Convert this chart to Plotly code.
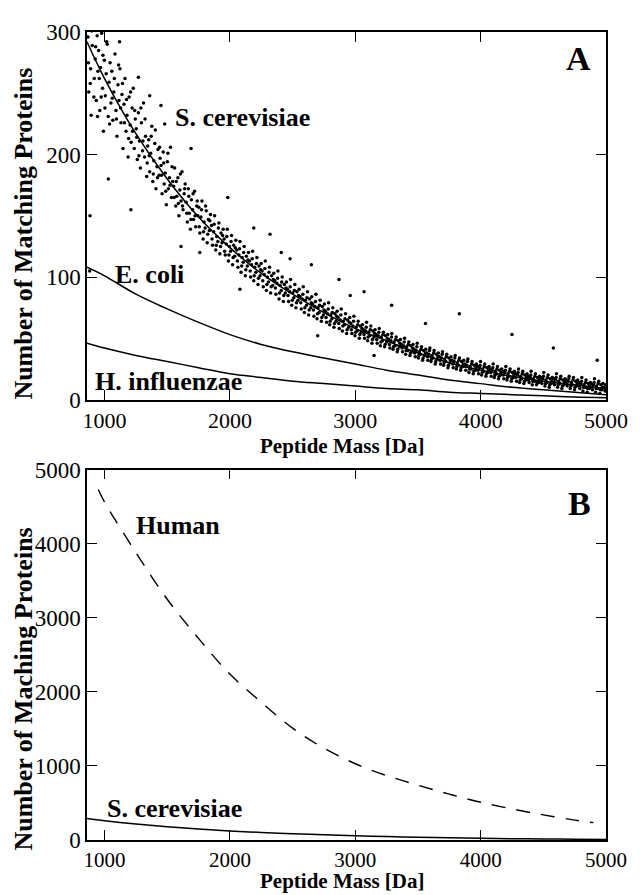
import plotly.graph_objects as go

# ---------------- data ----------------
mass_grid = [860, 1000, 1250, 1500, 1750, 2000, 2250, 2500, 2750, 3000,
             3250, 3500, 3750, 4000, 4250, 4500, 4750, 5000]
s_cerevisiae = [292, 262, 217, 180, 149, 124, 103, 86, 71, 58,
                48, 38, 30, 24, 19, 15, 12, 9]
e_coli = [108, 101, 86, 74, 63, 53, 45, 39, 34, 29,
          24, 20, 16, 13, 10, 8, 6, 4]
h_influenzae = [46, 42, 36, 31, 26, 21, 18, 15, 13, 11,
                9, 8, 6, 5, 4, 3, 2, 1.5]

human_mass = [950, 1000, 1250, 1500, 1750, 2000, 2250, 2500, 2750, 3000,
              3250, 3500, 3750, 4000, 4250, 4500, 4750, 4900]
human = [4730, 4560, 3880, 3250, 2720, 2240, 1860, 1510, 1240, 1030,
         870, 740, 620, 510, 420, 340, 270, 235]

# individual peptide matches (S. cerevisiae)
scatter_points = [
    (868, 296), (874, 251), (881, 312), (889, 270), (893, 232), (902, 289), (911, 305), (918, 262), (926, 278), (934, 244), (941, 297), (947, 268),
    (953, 285), (962, 236), (968, 271), (977, 299), (984, 254), (991, 219), (998, 277), (1006, 248), (1013, 266), (1021, 290), (1029, 231), (1036, 259), (1044, 275), (1051, 242),
    (1058, 268), (1066, 228), (1074, 251), (1083, 282), (1091, 236), (1099, 215), (1107, 257), (1115, 244), (1123, 270), (1131, 226), (1139, 249), (1147, 205),
    (1155, 241), (1163, 262), (1171, 219), (1179, 232), (1188, 198), (1196, 247), (1204, 224), (1212, 210), (1220, 238), (1229, 254), (1237, 205), (1245, 229),
    (1253, 221), (1261, 196), (1270, 234), (1278, 211), (1286, 189), (1294, 226), (1303, 203), (1311, 242), (1319, 198), (1327, 215), (1336, 182), (1344, 207),
    (1352, 212), (1360, 186), (1368, 201), (1377, 223), (1385, 178), (1393, 195), (1401, 209), (1410, 172), (1418, 190), (1426, 204), (1435, 183), (1443, 197),
    (1451, 191), (1459, 168), (1468, 202), (1476, 176), (1484, 185), (1493, 159), (1501, 194), (1509, 172), (1518, 181), (1526, 206), (1534, 165), (1543, 178),
    (1551, 174), (1559, 189), (1568, 158), (1576, 166), (1585, 181), (1593, 150), (1601, 171), (1610, 162), (1618, 186), (1626, 155), (1635, 168), (1643, 176),
    (1651, 161), (1660, 145), (1668, 172), (1676, 152), (1685, 139), (1693, 163), (1702, 155), (1710, 147), (1718, 170), (1727, 141), (1735, 158), (1744, 150),
    (1752, 157), (1760, 136), (1769, 149), (1777, 162), (1786, 131), (1794, 145), (1802, 140), (1811, 154), (1819, 128), (1828, 147), (1836, 138), (1845, 151),
    (1853, 142), (1861, 126), (1870, 137), (1878, 150), (1887, 122), (1895, 133), (1904, 129), (1912, 144), (1920, 119), (1929, 136), (1937, 128), (1946, 139),
    (1954, 131), (1963, 118), (1971, 127), (1979, 139), (1988, 113), (1996, 125), (2005, 121), (2013, 134), (2021, 110), (2030, 126), (2038, 117), (2047, 130),
    (2055, 122), (2064, 108), (2072, 118), (2080, 129), (2089, 104), (2097, 116), (2106, 112), (2114, 125), (2123, 101), (2131, 117), (2139, 109), (2148, 120),
    (2156, 113), (2165, 100), (2173, 110), (2181, 121), (2190, 97), (2198, 108), (2207, 104), (2215, 116), (2224, 94), (2232, 109), (2240, 101), (2249, 111),
    (2257, 105), (2266, 92), (2274, 102), (2282, 113), (2291, 89), (2299, 100), (2308, 96), (2316, 108), (2325, 87), (2333, 101), (2341, 93), (2350, 103),
    (2358, 97), (2367, 86), (2375, 95), (2383, 105), (2392, 82), (2400, 93), (2409, 89), (2417, 100), (2426, 80), (2434, 94), (2442, 87), (2451, 96),
    (2459, 90), (2468, 80), (2476, 88), (2484, 98), (2493, 77), (2501, 87), (2510, 83), (2518, 94), (2527, 75), (2535, 88), (2543, 81), (2552, 90),
    (2560, 84), (2569, 74), (2577, 82), (2585, 92), (2594, 71), (2602, 81), (2611, 77), (2619, 88), (2628, 69), (2636, 82), (2644, 75), (2653, 84),
    (2661, 78), (2670, 68), (2678, 76), (2686, 86), (2695, 66), (2703, 75), (2712, 71), (2720, 81), (2729, 64), (2737, 76), (2745, 69), (2754, 78),
    (2762, 72), (2771, 63), (2779, 70), (2787, 79), (2796, 61), (2804, 69), (2813, 66), (2821, 75), (2830, 59), (2838, 70), (2846, 64), (2855, 72),
    (2863, 67), (2872, 58), (2880, 65), (2888, 74), (2897, 56), (2905, 64), (2914, 61), (2922, 70), (2931, 54), (2939, 65), (2947, 59), (2956, 67),
    (2964, 62), (2973, 54), (2981, 60), (2989, 68), (2998, 52), (3006, 59), (3015, 56), (3023, 64), (3032, 50), (3040, 60), (3048, 55), (3057, 61),
    (3065, 57), (3074, 50), (3082, 56), (3090, 63), (3099, 48), (3107, 55), (3116, 52), (3124, 60), (3133, 46), (3141, 56), (3149, 51), (3158, 57),
    (3166, 53), (3175, 46), (3183, 52), (3191, 58), (3200, 44), (3208, 51), (3217, 48), (3225, 55), (3234, 43), (3242, 52), (3250, 47), (3259, 53),
    (3267, 49), (3276, 42), (3284, 48), (3292, 54), (3301, 41), (3309, 47), (3318, 44), (3326, 51), (3335, 39), (3343, 48), (3351, 43), (3360, 49),
    (3368, 45), (3377, 39), (3385, 44), (3393, 50), (3402, 37), (3410, 43), (3419, 40), (3427, 47), (3436, 36), (3444, 44), (3452, 39), (3461, 45),
    (3469, 41), (3478, 35), (3486, 40), (3494, 46), (3503, 34), (3511, 39), (3520, 37), (3528, 43), (3537, 32), (3545, 40), (3553, 36), (3562, 41),
    (3570, 38), (3579, 32), (3587, 37), (3595, 42), (3604, 31), (3612, 36), (3621, 34), (3629, 40), (3638, 29), (3646, 37), (3654, 33), (3663, 38),
    (3671, 35), (3680, 29), (3688, 34), (3696, 39), (3705, 28), (3713, 33), (3722, 31), (3730, 37), (3739, 26), (3747, 34), (3755, 30), (3764, 35),
    (3772, 32), (3781, 26), (3789, 31), (3797, 36), (3806, 25), (3814, 30), (3823, 28), (3831, 34), (3840, 24), (3848, 31), (3856, 27), (3865, 32),
    (3873, 29), (3882, 24), (3890, 28), (3898, 33), (3907, 22), (3915, 27), (3924, 25), (3932, 31), (3941, 21), (3949, 28), (3957, 24), (3966, 29),
    (3974, 27), (3983, 21), (3991, 26), (3999, 31), (4008, 20), (4016, 25), (4025, 23), (4033, 29), (4042, 19), (4050, 26), (4058, 22), (4067, 27),
    (4075, 25), (4084, 19), (4092, 24), (4100, 29), (4109, 18), (4117, 23), (4126, 21), (4134, 27), (4143, 17), (4151, 24), (4159, 20), (4168, 25),
    (4176, 23), (4185, 17), (4193, 22), (4201, 27), (4210, 16), (4218, 21), (4227, 19), (4235, 25), (4244, 15), (4252, 22), (4260, 18), (4269, 23),
    (4277, 21), (4286, 15), (4294, 20), (4302, 25), (4311, 14), (4319, 19), (4328, 17), (4336, 23), (4345, 13), (4353, 20), (4361, 16), (4370, 21),
    (4378, 19), (4387, 14), (4395, 18), (4403, 23), (4412, 12), (4420, 17), (4429, 15), (4437, 21), (4446, 12), (4454, 18), (4462, 14), (4471, 19),
    (4479, 18), (4488, 13), (4496, 17), (4504, 22), (4513, 11), (4521, 16), (4530, 14), (4538, 20), (4547, 10), (4555, 17), (4563, 13), (4572, 18),
    (4580, 17), (4589, 12), (4597, 16), (4605, 21), (4614, 10), (4622, 15), (4631, 13), (4639, 19), (4648, 9), (4656, 16), (4664, 12), (4673, 17),
    (4681, 16), (4690, 11), (4698, 15), (4706, 19), (4715, 9), (4723, 14), (4732, 12), (4740, 18), (4749, 8), (4757, 15), (4765, 11), (4774, 16),
    (4782, 14), (4791, 9), (4799, 13), (4807, 18), (4816, 7), (4824, 12), (4833, 10), (4841, 16), (4850, 6), (4858, 13), (4866, 9), (4875, 14),
    (4883, 13), (4892, 8), (4900, 12), (4908, 17), (4917, 6), (4925, 11), (4934, 9), (4942, 15), (4951, 5), (4959, 12), (4967, 8), (4976, 13),
    (4984, 10), (4993, 7), (4998, 12),
    # second pass through the band
    (871, 275), (886, 258), (899, 301), (915, 247), (929, 288), (944, 231),
    (958, 262), (973, 247), (987, 281), (1003, 238), (1017, 292), (1040, 225),
    (1061, 246), (1078, 262), (1095, 229), (1112, 273), (1128, 238), (1143, 258),
    (1159, 226), (1175, 245), (1192, 213), (1208, 251), (1224, 219), (1241, 236),
    (1257, 214), (1274, 199), (1290, 238), (1306, 211), (1323, 229), (1340, 193),
    (1356, 199), (1372, 215), (1389, 184), (1405, 220), (1422, 181), (1439, 206),
    (1455, 183), (1472, 193), (1488, 170), (1505, 201), (1522, 175), (1538, 190),
    (1555, 165), (1572, 178), (1589, 160), (1605, 184), (1622, 158), (1639, 172),
    (1656, 152), (1672, 166), (1689, 147), (1706, 168), (1722, 150), (1739, 162),
    (1756, 141), (1773, 155), (1790, 137), (1806, 158), (1823, 135), (1840, 146),
    (1857, 131), (1874, 143), (1891, 126), (1908, 140), (1925, 125), (1942, 134),
    (1958, 121), (1975, 133), (1992, 118), (2009, 129), (2026, 116), (2043, 124),
    (2060, 113), (2077, 123), (2094, 109), (2110, 120), (2127, 106), (2144, 114),
    (2161, 105), (2178, 115), (2194, 101), (2211, 111), (2228, 99), (2245, 106),
    (2262, 97), (2279, 107), (2295, 94), (2312, 104), (2329, 92), (2346, 98),
    (2363, 91), (2380, 99), (2396, 87), (2413, 96), (2430, 85), (2447, 91),
    (2464, 85), (2481, 92), (2497, 81), (2514, 89), (2531, 79), (2548, 85),
    (2565, 79), (2582, 86), (2598, 75), (2615, 83), (2632, 73), (2649, 79),
    (2666, 73), (2683, 80), (2699, 70), (2716, 77), (2733, 67), (2750, 73),
    (2767, 67), (2784, 74), (2800, 64), (2817, 71), (2834, 62), (2851, 68),
    (2868, 62), (2885, 69), (2901, 60), (2918, 66), (2935, 57), (2952, 63),
    (2969, 57), (2986, 64), (3002, 55), (3019, 61), (3036, 53), (3053, 58),
    (3070, 53), (3087, 59), (3103, 51), (3120, 57), (3137, 49), (3154, 54),
    (3171, 49), (3188, 55), (3204, 47), (3221, 53), (3238, 45), (3255, 50),
    (3272, 45), (3289, 51), (3305, 43), (3322, 49), (3339, 41), (3356, 46),
    (3373, 42), (3390, 47), (3406, 40), (3423, 45), (3440, 38), (3457, 42),
    (3474, 38), (3491, 43), (3507, 36), (3524, 41), (3541, 34), (3558, 38),
    (3575, 35), (3592, 40), (3608, 33), (3625, 38), (3642, 31), (3659, 35),
    (3676, 32), (3693, 37), (3709, 30), (3726, 35), (3743, 28), (3760, 32),
    (3777, 29), (3794, 34), (3810, 27), (3827, 32), (3844, 26), (3861, 29),
    (3878, 27), (3895, 31), (3911, 25), (3928, 29), (3945, 23), (3962, 26),
    (3979, 24), (3996, 28), (4012, 22), (4029, 27), (4046, 21), (4063, 24),
    (4080, 22), (4097, 26), (4113, 20), (4130, 25), (4147, 19), (4164, 22),
    (4181, 20), (4198, 24), (4214, 18), (4231, 23), (4248, 17), (4265, 20),
    (4282, 18), (4299, 22), (4315, 16), (4332, 21), (4349, 15), (4366, 18),
    (4383, 16), (4400, 20), (4416, 15), (4433, 19), (4450, 14), (4467, 16),
    (4484, 15), (4501, 19), (4517, 13), (4534, 18), (4551, 12), (4568, 15),
    (4585, 14), (4602, 18), (4618, 12), (4635, 17), (4652, 11), (4669, 14),
    (4686, 13), (4703, 17), (4719, 11), (4736, 16), (4753, 10), (4770, 13),
    (4787, 11), (4804, 15), (4820, 10), (4837, 14), (4854, 9), (4871, 11),
    (4888, 10), (4905, 14), (4921, 9), (4938, 13), (4955, 8), (4972, 10), (4990, 9),
    # sparse outliers
    (1030, 180), (884, 150), (881, 105), (1210, 155), (1450, 240), (1690, 205), (1610, 125), (1983, 165),
    (2190, 140), (2320, 135), (2480, 115), (2650, 110), (2870, 98), (3070, 88), (3290, 77), (3560, 62),
    (3830, 70), (4250, 53), (4580, 42), (4930, 32), (2080, 90), (2700, 52), (3150, 36), (1480, 225),
    (1360, 248), (1120, 292), (1270, 263), (1760, 120), (2410, 120), (2960, 85),
]
scatter_mass = [p[0] for p in scatter_points]
scatter_count = [p[1] for p in scatter_points]

x_ticks = [1000, 2000, 3000, 4000, 5000]
y_ticks_a = [0, 100, 200, 300]
y_ticks_b = [0, 1000, 2000, 3000, 4000, 5000]

# ---------------- figure ----------------
SERIF = "Liberation Serif, Times New Roman, serif"
fig = go.Figure()

fig.add_trace(go.Scatter(x=scatter_mass, y=scatter_count, mode="markers",
                         marker=dict(size=3.5, color="black"),
                         xaxis="x", yaxis="y", showlegend=False))
for ys in (s_cerevisiae, e_coli, h_influenzae):
    fig.add_trace(go.Scatter(x=mass_grid, y=ys, mode="lines", line=dict(color="black", width=1.5, shape="spline"),
                             xaxis="x", yaxis="y", showlegend=False))

fig.add_trace(go.Scatter(x=human_mass, y=human, mode="lines",
                         line=dict(color="black", width=1.4, dash="14px,11px", shape="spline"),
                         xaxis="x2", yaxis="y2", showlegend=False))
fig.add_trace(go.Scatter(x=mass_grid, y=s_cerevisiae, mode="lines",
                         line=dict(color="black", width=1.5, shape="spline"),
                         xaxis="x2", yaxis="y2", showlegend=False))

axis_common = dict(showline=True, linecolor="black", linewidth=1.5, mirror="ticks",
                   ticks="inside", ticklen=10, tickwidth=1.2, tickcolor="black",
                   showgrid=False, zeroline=False, ticklabeloverflow="allow")
ytick = dict(tickfont=dict(family=SERIF, size=23, color="black"))
xtick = dict(tickfont=dict(family=SERIF, size=22, color="black"))
xtick_b = dict(tickfont=dict(family=SERIF, size=21, color="black"))

# the page body adds an 8px margin, so the figure is 8px smaller than the window
fig.update_layout(
    width=632, height=887,
    paper_bgcolor="white", plot_bgcolor="white",
    margin=dict(l=79, r=21, t=12, b=52),
    xaxis=dict(domain=[0, 1], range=[860, 5000], tickvals=x_ticks, anchor="y", **axis_common, **xtick),
    yaxis=dict(domain=[0.5468, 1], range=[0, 300], tickvals=y_ticks_a, anchor="x", **axis_common, **ytick),
    xaxis2=dict(domain=[0, 1], range=[860, 5000], tickvals=x_ticks, anchor="y2", **axis_common, **xtick_b),
    yaxis2=dict(domain=[0.0036, 0.4605], range=[0, 5000], tickvals=y_ticks_b, anchor="x2", **axis_common, **ytick),
)

lab = dict(family=SERIF, size=26, color="black")
big = dict(family=SERIF, size=34, color="black")
xt = dict(family=SERIF, size=21, color="black")
yt = dict(family=SERIF, size=26, color="black")
ann = [
    dict(x=1547, y=230, xref="x", yref="y", text="<b>S. cerevisiae</b>", xanchor="left", font=lab),
    dict(x=1070, y=102, xref="x", yref="y", text="<b>E. coli</b>", xanchor="left", font=lab),
    dict(x=906, y=14.5, xref="x", yref="y", text="<b>H. influenzae</b>", xanchor="left", font=lab),
    dict(x=4898, y=278, xref="x", yref="y", text="<b>A</b>", xanchor="right", font=big),
    dict(x=1234, y=4242, xref="x2", yref="y2", text="<b>Human</b>", xanchor="left", font=lab),
    dict(x=4898, y=4540, xref="x2", yref="y2", text="<b>B</b>", xanchor="right", font=big),
    dict(x=1000, y=430, xref="x2", yref="y2", text="<b>S. cerevisiae</b>", xanchor="left", font=lab),
    # axis titles
    dict(x=0.492, y=0.490, xref="paper", yref="paper", text="<b>Peptide Mass [Da]</b>", font=xt,
         xanchor="center", yanchor="middle"),
    dict(x=0.492, y=-0.0468, xref="paper", yref="paper", text="<b>Peptide Mass [Da]</b>", font=xt,
         xanchor="center", yanchor="middle"),
    dict(x=-0.122, y=0.751, xref="paper", yref="paper", text="<b>Number of Matching Proteins</b>",
         textangle=-90, font=yt, xanchor="center", yanchor="middle"),
    dict(x=-0.122, y=0.19, xref="paper", yref="paper", text="<b>Number of Maching Proteins</b>",
         textangle=-90, font=yt, xanchor="center", yanchor="middle"),
]
for a in ann:
    a["showarrow"] = False
fig.update_layout(annotations=ann)

fig.write_html("out.html")
